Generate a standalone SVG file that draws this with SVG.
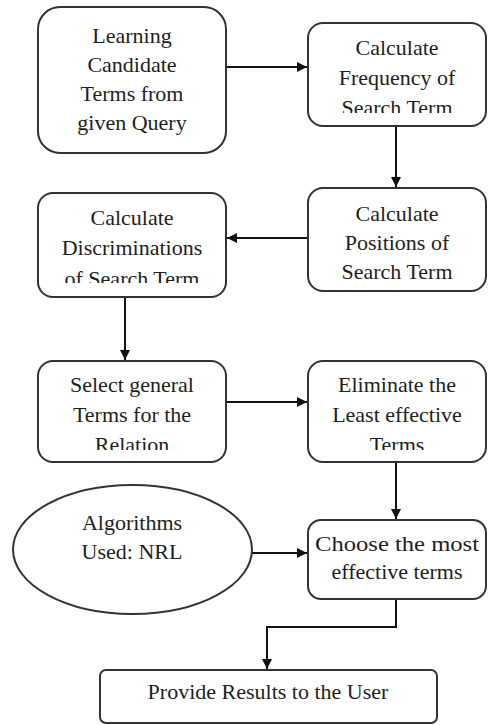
<svg xmlns="http://www.w3.org/2000/svg" width="488" height="725" viewBox="0 0 488 725">
<style>
.box{fill:#fff;stroke:#333;stroke-width:2}
.t{font-family:'Liberation Serif','DejaVu Serif',serif;font-size:22px;fill:#1e1e1e;text-anchor:middle}
.c{fill:none;stroke:#111;stroke-width:2}
</style>
<defs>
<marker id="ah" viewBox="0 0 10 10" refX="10" refY="5" markerWidth="5" markerHeight="5" orient="auto" markerUnits="strokeWidth">
<path d="M0,0 L10,5 L0,10 z" fill="#111"/>
</marker>
<clipPath id="c2"><rect x="308" y="23" width="178" height="90"/></clipPath>
<clipPath id="c3"><rect x="38" y="193" width="188" height="90"/></clipPath>
<clipPath id="c5"><rect x="38" y="361" width="188" height="89"/></clipPath>
<clipPath id="c6"><rect x="308" y="361" width="178" height="89"/></clipPath>
</defs>
<g id="connectors">
<path class="c" d="M226,67 H307" marker-end="url(#ah)"/>
<path class="c" d="M396,126 V187" marker-end="url(#ah)"/>
<path class="c" d="M308,238 H227" marker-end="url(#ah)"/>
<path class="c" d="M125,297 V360" marker-end="url(#ah)"/>
<path class="c" d="M226,402 H307" marker-end="url(#ah)"/>
<path class="c" d="M396,462 V519" marker-end="url(#ah)"/>
<path class="c" d="M252,553 H307" marker-end="url(#ah)"/>
<path class="c" d="M396,599 V627 H267 V669" marker-end="url(#ah)"/>
</g>
<g id="n1">
<rect class="box" x="38" y="7" width="188" height="146" rx="22"/>
<text class="t" font-family="Liberation Serif, serif" x="132" y="43">Learning</text>
<text class="t" x="132" y="72">Candidate</text>
<text class="t" x="132" y="101">Terms from</text>
<text class="t" x="132" y="130">given Query</text>
</g>
<g id="n2">
<rect class="box" x="308" y="23" width="178" height="103" rx="15"/>
<g clip-path="url(#c2)">
<text class="t" x="397" y="55">Calculate</text>
<text class="t" x="397" y="85">Frequency of</text>
<text class="t" x="397" y="115">Search Term</text>
</g>
</g>
<g id="n3">
<rect class="box" x="38" y="193" width="188" height="104" rx="15"/>
<g clip-path="url(#c3)">
<text class="t" x="132" y="225">Calculate</text>
<text class="t" x="132" y="255">Discriminations</text>
<text class="t" x="132" y="286">of Search Term</text>
</g>
</g>
<g id="n4">
<rect class="box" x="308" y="188" width="178" height="103" rx="15"/>
<text class="t" x="397" y="221">Calculate</text>
<text class="t" x="397" y="250">Positions of</text>
<text class="t" x="397" y="279">Search Term</text>
</g>
<g id="n5">
<rect class="box" x="38" y="361" width="188" height="101" rx="15"/>
<g clip-path="url(#c5)">
<text class="t" x="132" y="392">Select general</text>
<text class="t" x="132" y="422">Terms for the</text>
<text class="t" x="132" y="452">Relation</text>
</g>
</g>
<g id="n6">
<rect class="box" x="308" y="361" width="178" height="101" rx="15"/>
<g clip-path="url(#c6)">
<text class="t" x="397" y="392">Eliminate the</text>
<text class="t" x="397" y="422">Least effective</text>
<text class="t" x="397" y="452">Terms</text>
</g>
</g>
<g id="n7">
<rect class="box" x="308" y="520" width="178" height="79" rx="13"/>
<text class="t" x="397" y="551" textLength="164" lengthAdjust="spacingAndGlyphs">Choose the most</text>
<text class="t" x="397" y="579">effective terms</text>
</g>
<g id="n8">
<ellipse class="box" cx="132.5" cy="549.5" rx="119.5" ry="64.5" stroke-width="1.5"/>
<text class="t" x="132" y="530">Algorithms</text>
<text class="t" x="132" y="559">Used: NRL</text>
</g>
<g id="n9">
<rect class="box" x="100" y="670" width="337" height="53" rx="6"/>
<text class="t" x="268" y="699">Provide Results to the User</text>
</g>
</svg>
